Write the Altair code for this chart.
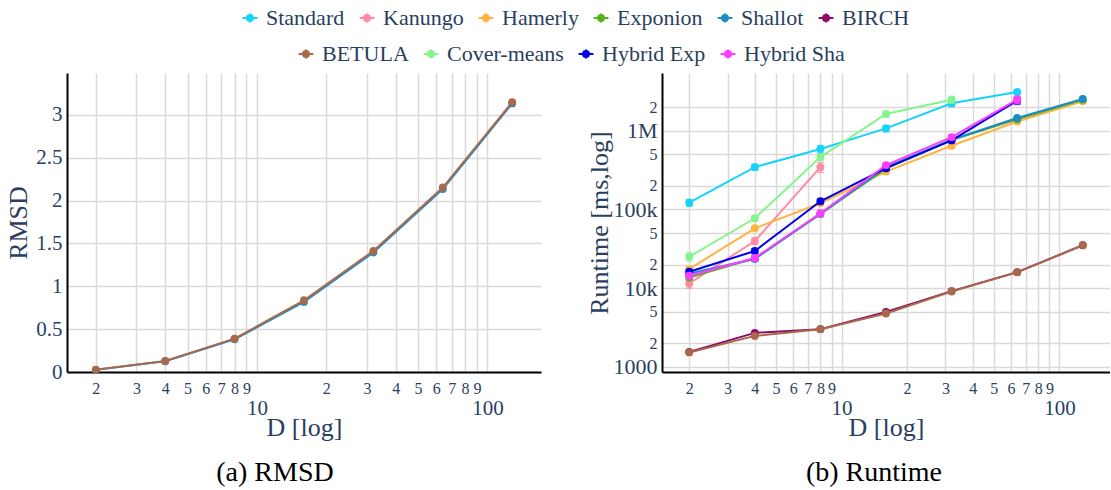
import altair as alt
import pandas as pd

FONT = "Liberation Serif"
TXT = "#2a3f5f"
GRID = "#d9d9d9"

D = [2, 4, 8, 16, 32, 64, 128]
series_row1 = ["Standard", "Kanungo", "Hamerly", "Exponion", "Shallot", "BIRCH"]
series_row2 = ["BETULA", "Cover-means", "Hybrid Exp", "Hybrid Sha"]
series_names = series_row1 + series_row2
colors_row1 = ["#17d3f8", "#ff8aa2", "#ffb23f", "#57b31b", "#1d8cc9", "#8c0b68"]
colors_row2 = ["#a86a4b", "#86f48d", "#0000ec", "#ff3cff"]

# (a) RMSD
rmsd = {
    "Shallot": [0.025, 0.125, 0.382, 0.818, 1.395, 2.135, 3.135],
    "BETULA": [0.027, 0.128, 0.389, 0.837, 1.413, 2.153, 3.15],
}

# (b) Runtime [ms]
runtime = {
    "Standard": [122e3, 345e3, 585e3, 1.07e6, 2.23e6, 3.1e6],
    "Kanungo": [11.5e3, 39.8e3, 345e3],
    "Hamerly": [17.5e3, 57.7e3, 120e3, 303e3, 644e3, 1.31e6, 2.36e6],
    "Exponion": [13.7e3, 24.0e3, 88e3, 330e3, 760e3, 1.40e6, 2.48e6],
    "Shallot": [15.4e3, 23.5e3, 87.9e3, 345e3, 768e3, 1.45e6, 2.53e6],
    "BIRCH": [1550, 2710, 3020, 5010, 9190, 16.0e3, 35.1e3],
    "BETULA": [1530, 2480, 3020, 4780, 9100, 15.9e3, 35.1e3],
    "Cover-means": [25.1e3, 77.3e3, 462e3, 1.63e6, 2.48e6],
    "Hybrid Exp": [16.2e3, 29.7e3, 127e3, 335e3, 753e3, 2.41e6],
    "Hybrid Sha": [14.4e3, 24.2e3, 89.5e3, 366e3, 830e3, 2.48e6],
}
runtime_err = {
    "Standard": [12e3, 30e3, 65e3, 100e3, 200e3, 150e3],
    "Kanungo": [1.5e3, 4e3, 50e3],
    "Hamerly": [1e3, 3e3, 6e3, 20e3, 45e3, 60e3, 100e3],
    "Exponion": [1e3, 1.5e3, 5e3, 15e3, 40e3, 60e3, 100e3],
    "Shallot": [1e3, 1.5e3, 5e3, 15e3, 40e3, 60e3, 80e3],
    "BIRCH": [40, 60, 60, 100, 150, 300, 600],
    "BETULA": [40, 60, 60, 100, 150, 300, 600],
    "Cover-means": [3e3, 6e3, 40e3, 130e3, 250e3],
    "Hybrid Exp": [1e3, 2e3, 8e3, 20e3, 40e3, 250e3],
    "Hybrid Sha": [1e3, 2e3, 8e3, 25e3, 60e3, 280e3],
}

x_ticks = [2, 3, 4, 5, 6, 7, 8, 9, 10, 20, 30, 40, 50, 60, 70, 80, 90, 100]
rmsd_ticks = [0, 0.5, 1, 1.5, 2, 2.5, 3]
rt_ticks = [1000, 2000, 5000, 1e4, 2e4, 5e4, 1e5, 2e5, 5e5, 1e6, 2e6]

SYMBOL = "M-1,0H1M0,-0.6V0.6M-0.4,0A0.4,0.4,0,1,1,0.4,0A0.4,0.4,0,1,1,-0.4,0Z"


def make_legend(x, y):
    return alt.Legend(
        title=None, orient="none", legendX=x, legendY=y, direction="horizontal",
        labelFont=FONT, labelFontSize=22, labelColor=TXT, symbolType=SYMBOL,
        symbolSize=220, symbolStrokeWidth=2, columnPadding=10, labelOffset=5,
        labelLimit=300,
    )


scale1 = alt.Scale(domain=series_row1, range=colors_row1)
scale2 = alt.Scale(domain=series_row2, range=colors_row2)
legend1 = make_legend(172, -66)
legend2 = make_legend(228, -30)

DEC_X = "datum.value == 10 || datum.value == 100"
x_axis = alt.Axis(
    values=x_ticks, title="D [log]", titleFont=FONT, titleFontSize=26, titleColor=TXT,
    titleFontWeight="normal", titlePadding=-4,
    labelExpr="(" + DEC_X + ") ? toString(datum.value) : substring(toString(datum.value), 0, 1)",
    labelFont=FONT, labelColor=TXT,
    labelFontSize={"condition": {"test": DEC_X, "value": 21}, "value": 16},
    labelPadding={"condition": {"test": DEC_X, "value": 25}, "value": 8},
    labelBaseline="top", labelOverlap=False, labelFlush=False, ticks=False,
    domainColor="black", domainWidth=2, gridColor=GRID, gridWidth=1.5,
)
x_scale = alt.Scale(type="log", domain=[1.5, 170.7], nice=False)


def layers_for(data, err, y_scale, y_axis):
    out = []
    for name in series_names:
        if name not in data:
            continue
        vals = data[name]
        df = pd.DataFrame({"D": D[:len(vals)], "value": vals, "series": name})
        x = alt.X("D:Q", scale=x_scale, axis=x_axis)
        y = alt.Y("value:Q", scale=y_scale, axis=y_axis)
        if name in series_row1:
            col = {"color": alt.Color("series:N", scale=scale1, legend=legend1)}
            line_col = col
            fill_col = col
        else:
            line_col = {"stroke": alt.Stroke("series:N", scale=scale2, legend=legend2)}
            fill_col = {"fill": alt.Fill("series:N", scale=scale2, legend=legend2)}
        base = alt.Chart(df)
        if err is not None:
            e = err[name]
            df["lo"] = [v - d for v, d in zip(vals, e)]
            df["hi"] = [v + d for v, d in zip(vals, e)]
            base = alt.Chart(df)
            out.append(base.mark_rule(strokeWidth=1.5).encode(
                x=x, y=alt.Y("lo:Q", scale=y_scale, axis=y_axis), y2="hi:Q", **line_col))
            out.append(base.mark_tick(orient="horizontal", size=7, thickness=1.5, filled=True).encode(
                x=x, y=alt.Y("lo:Q", scale=y_scale, axis=y_axis), **fill_col))
            out.append(base.mark_tick(orient="horizontal", size=7, thickness=1.5, filled=True).encode(
                x=x, y=alt.Y("hi:Q", scale=y_scale, axis=y_axis), **fill_col))
        out.append(base.mark_line(strokeWidth=2).encode(x=x, y=y, **line_col))
        out.append(base.mark_point(size=62, filled=True, opacity=1).encode(x=x, y=y, **fill_col))
    return out


left_y_axis = alt.Axis(
    values=rmsd_ticks, title="RMSD", titleFont=FONT, titleFontSize=26, titleColor=TXT,
    titleFontWeight="normal", titlePadding=4, labelExpr="datum.value + ''",
    labelFont=FONT, labelFontSize=21, labelColor=TXT, labelPadding=5, ticks=False,
    domainColor="black", domainWidth=2, gridColor=GRID, gridWidth=1.5,
)
left_y_scale = alt.Scale(domain=[0, 3.49], nice=False, zero=False)

DEC_Y = "datum.value == 1000 || datum.value == 10000 || datum.value == 100000 || datum.value == 1000000"
right_y_axis = alt.Axis(
    values=rt_ticks, title="Runtime [ms,log]", titleFont=FONT, titleFontSize=26, titleColor=TXT,
    titleFontWeight="normal", titlePadding=1,
    labelExpr="datum.value == 1000 ? '1000' : datum.value == 10000 ? '10k' : datum.value == 100000 ? '100k' : datum.value == 1000000 ? '1M' : substring(toString(datum.value), 0, 1)",
    labelFont=FONT, labelColor=TXT,
    labelFontSize={"condition": {"test": DEC_Y, "value": 22}, "value": 16},
    labelPadding=5, labelOverlap=False, labelFlush=False, ticks=False,
    domainColor="black", domainWidth=2, gridColor=GRID, gridWidth=1.5,
)
right_y_scale = alt.Scale(type="log", domain=[863, 5.41e6], nice=False)

left = alt.layer(*layers_for(rmsd, None, left_y_scale, left_y_axis)).properties(
    width=474, height=299,
    title=alt.TitleParams("(a) RMSD", orient="bottom", font=FONT, fontSize=28, color="black",
                          fontWeight="normal", offset=19, dx=-29),
)
right = alt.layer(*layers_for(runtime, runtime_err, right_y_scale, right_y_axis)).properties(
    width=448, height=299,
    title=alt.TitleParams("(b) Runtime", orient="bottom", font=FONT, fontSize=28, color="black",
                          fontWeight="normal", offset=19, dx=-12),
)

chart = alt.hconcat(left, right, spacing=121, bounds="flush").resolve_scale(
    color="shared", stroke="shared", fill="shared", x="independent", y="independent"
).resolve_legend(color="shared", stroke="shared", fill="shared").properties(
    padding={"left": 5, "top": 7, "right": 0, "bottom": 1}
).configure(font=FONT).configure_view(strokeWidth=0).configure_axis(
    labelFont=FONT, titleFont=FONT
).configure_legend(labelFont=FONT).configure_title(font=FONT)

chart.save("out.html", embed_options={"renderer": "svg", "actions": False})
